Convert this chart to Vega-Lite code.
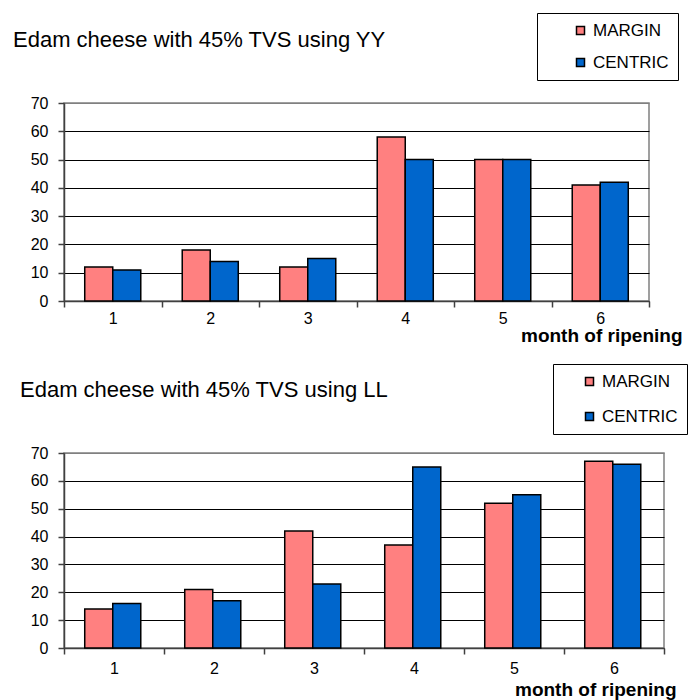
{
  "$schema": "https://vega.github.io/schema/vega-lite/v6.json",
  "background": "white",
  "padding": {"left": 12, "top": 11, "right": 0, "bottom": 0},
  "spacing": 16,
  "align": "none",
  "config": {
    "font": "Liberation Sans",
    "view": {"stroke": "#808080", "strokeWidth": 1.5},
    "axis": {
      "labelFont": "Liberation Sans", "labelColor": "black", "labelFontSize": 16,
      "domainColor": "#404040", "domainWidth": 1.5, "tickColor": "#404040", "tickWidth": 1.5, "tickSize": 6
    },
    "legend": {"labelFont": "Liberation Sans"}
  },
  "datasets": {
    "yy": [
      {"month": "1", "pos": "MARGIN", "value": 12}, {"month": "1", "pos": "CENTRIC", "value": 11},
      {"month": "2", "pos": "MARGIN", "value": 18}, {"month": "2", "pos": "CENTRIC", "value": 14},
      {"month": "3", "pos": "MARGIN", "value": 12}, {"month": "3", "pos": "CENTRIC", "value": 15},
      {"month": "4", "pos": "MARGIN", "value": 58}, {"month": "4", "pos": "CENTRIC", "value": 50},
      {"month": "5", "pos": "MARGIN", "value": 50}, {"month": "5", "pos": "CENTRIC", "value": 50},
      {"month": "6", "pos": "MARGIN", "value": 41}, {"month": "6", "pos": "CENTRIC", "value": 42}
    ],
    "ll": [
      {"month": "1", "pos": "MARGIN", "value": 14}, {"month": "1", "pos": "CENTRIC", "value": 16},
      {"month": "2", "pos": "MARGIN", "value": 21}, {"month": "2", "pos": "CENTRIC", "value": 17},
      {"month": "3", "pos": "MARGIN", "value": 42}, {"month": "3", "pos": "CENTRIC", "value": 23},
      {"month": "4", "pos": "MARGIN", "value": 37}, {"month": "4", "pos": "CENTRIC", "value": 65},
      {"month": "5", "pos": "MARGIN", "value": 52}, {"month": "5", "pos": "CENTRIC", "value": 55},
      {"month": "6", "pos": "MARGIN", "value": 67}, {"month": "6", "pos": "CENTRIC", "value": 66}
    ]
  },
  "vconcat": [
    {
      "data": {"name": "yy"},
      "width": 585,
      "height": 198,
      "title": {"text": "Edam cheese with 45% TVS using YY", "anchor": "start", "frame": "group", "dx": -51, "offset": -61, "baseline": "bottom", "fontSize": 22, "fontWeight": "normal", "font": "Liberation Sans", "color": "black"},
      "mark": {"type": "bar", "stroke": "black", "strokeWidth": 1.5},
      "encoding": {
        "x": {"field": "month", "type": "nominal", "scale": {"paddingInner": 0, "paddingOuter": 0},
          "axis": {"title": "month of ripening", "labelAngle": 0, "tickBand": "extent", "labelPadding": 3, "titleAnchor": "end", "titleAlign": "right", "titleX": 618, "titleY": 34, "titleBaseline": "middle", "titleFontSize": 19, "titleFontWeight": "bold", "titleColor": "black"}},
        "xOffset": {"field": "pos", "type": "nominal", "sort": ["MARGIN", "CENTRIC"], "scale": {"paddingOuter": 0.74, "paddingInner": 0}},
        "y": {"field": "value", "type": "quantitative", "scale": {"domain": [0, 70], "nice": false},
          "axis": {"title": null, "values": [0, 10, 20, 30, 40, 50, 60, 70], "labelPadding": 10,
            "gridColor": {"condition": {"test": "datum.value === 70", "value": "#808080"}, "value": "black"}, "gridWidth": 1}},
        "color": {"field": "pos", "type": "nominal", "sort": ["MARGIN", "CENTRIC"],
          "scale": {"domain": ["MARGIN", "CENTRIC"], "range": ["#FF8080", "#0066CC"]},
          "legend": {"title": null, "orient": "none", "legendX": 473, "legendY": -90, "strokeColor": "black", "fillColor": "white", "padding": 9,
            "symbolType": "square", "symbolSize": 64, "symbolStrokeColor": "black", "symbolStrokeWidth": 1.5, "symbolOffset": 26,
            "labelFontSize": 17, "labelColor": "black", "labelOffset": 4, "rowPadding": 14, "labelLimit": 500}}
      }
    },
    {
      "data": {"name": "ll"},
      "width": 600,
      "height": 195,
      "title": {"text": "Edam cheese with 45% TVS using LL", "anchor": "start", "frame": "group", "dx": -44, "offset": -60, "baseline": "bottom", "fontSize": 22, "fontWeight": "normal", "font": "Liberation Sans", "color": "black"},
      "mark": {"type": "bar", "stroke": "black", "strokeWidth": 1.5},
      "encoding": {
        "x": {"field": "month", "type": "nominal", "scale": {"paddingInner": 0, "paddingOuter": 0},
          "axis": {"title": "month of ripening", "labelAngle": 0, "tickBand": "extent", "labelPadding": 6, "titleAnchor": "end", "titleAlign": "right", "titleX": 612, "titleY": 41, "titleBaseline": "middle", "titleFontSize": 19, "titleFontWeight": "bold", "titleColor": "black"}},
        "xOffset": {"field": "pos", "type": "nominal", "sort": ["MARGIN", "CENTRIC"], "scale": {"paddingOuter": 0.75, "paddingInner": 0}},
        "y": {"field": "value", "type": "quantitative", "scale": {"domain": [0, 70], "nice": false},
          "axis": {"title": null, "values": [0, 10, 20, 30, 40, 50, 60, 70], "labelPadding": 10,
            "gridColor": {"condition": {"test": "datum.value === 70", "value": "#808080"}, "value": "black"}, "gridWidth": 1}},
        "color": {"field": "pos", "type": "nominal", "sort": ["MARGIN", "CENTRIC"],
          "scale": {"domain": ["MARGIN", "CENTRIC"], "range": ["#FF8080", "#0066CC"]},
          "legend": {"title": null, "orient": "none", "legendX": 489, "legendY": -89, "strokeColor": "black", "fillColor": "white", "padding": 9,
            "symbolType": "square", "symbolSize": 64, "symbolStrokeColor": "black", "symbolStrokeWidth": 1.5, "symbolOffset": 19,
            "labelFontSize": 17, "labelColor": "black", "labelOffset": 4, "rowPadding": 17, "labelLimit": 500}}
      }
    }
  ],
  "resolve": {"scale": {"color": "independent"}, "legend": {"color": "independent"}}
}
